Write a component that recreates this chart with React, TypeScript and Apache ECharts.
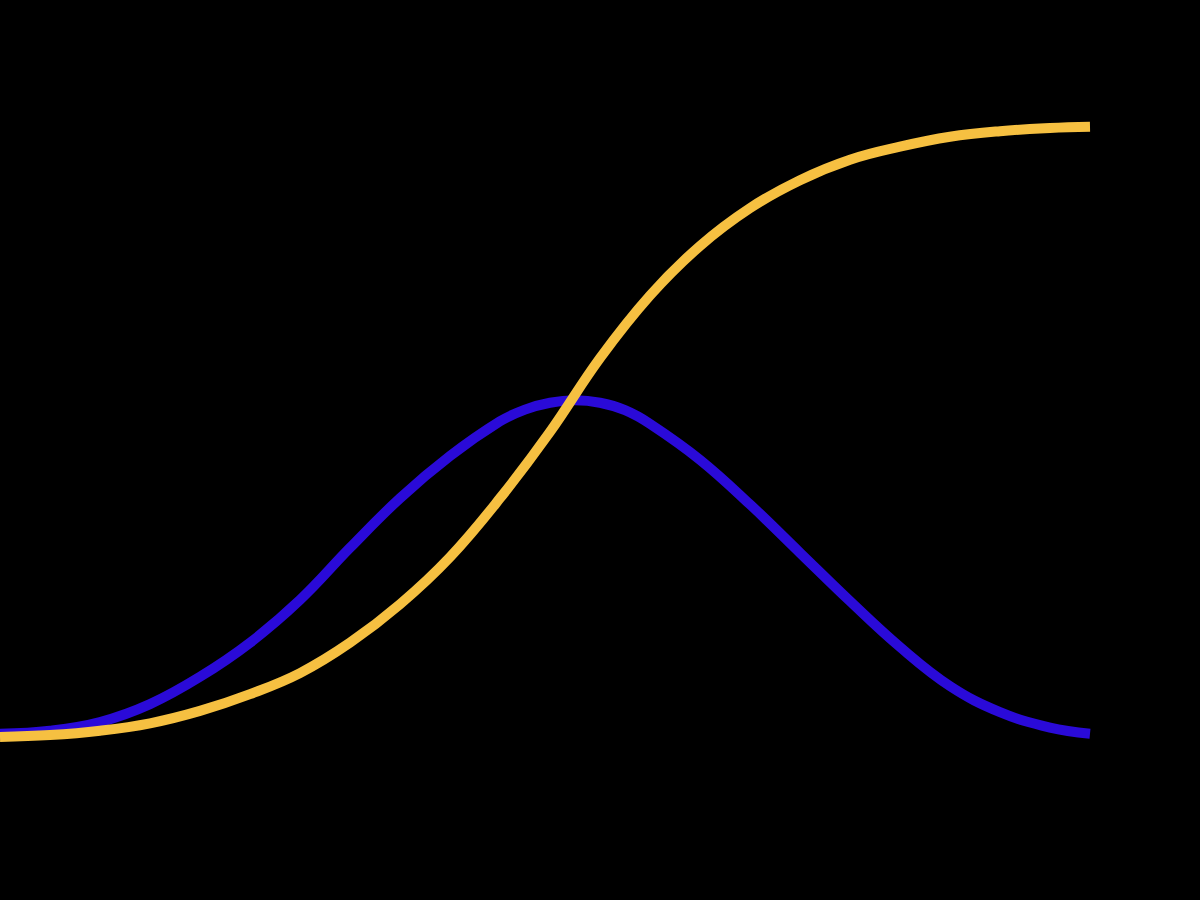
import React, { useEffect, useRef } from "react";
import * as echarts from "echarts";

// x positions for the adoption (bell) curve, arbitrary time units 0..109
const bellX = [0, 5, 10, 15, 20, 25, 30, 35, 40, 45, 50, 52.5, 55, 57.5, 60, 62.5, 65, 70, 75, 80, 85, 90, 95, 100, 105, 109];
// Adopters per period (bell curve), relative units 0..100
const adopters = [1.8, 2.3, 3.7, 6.6, 11.0, 16.5, 23.4, 31.8, 39.8, 46.6, 52.2, 54.1, 55.2, 55.6, 55.2, 54.0, 51.8, 46.0, 38.8, 31.0, 23.2, 15.8, 9.5, 5.3, 2.8, 1.8];

// x positions for the market-share (S) curve
const shareX = [0, 5, 10, 15, 20, 25, 30, 35, 40, 45, 50, 55, 60, 65, 70, 75, 80, 85, 90, 95, 100, 105, 109];
// Cumulative market share (S-curve), relative units 0..100
const share = [1.3, 1.6, 2.3, 3.5, 5.5, 8.2, 11.6, 16.5, 22.7, 30.3, 39.8, 50.5, 62.4, 72.5, 80.5, 86.6, 91.1, 94.4, 96.5, 98.1, 99.0, 99.5, 99.7];

const BLUE = "#2a0ad8";
const YELLOW = "#f6c041";

export default function App() {
  const ref = useRef<HTMLDivElement>(null);
  useEffect(() => {
    if (!ref.current) return;
    const chart = echarts.init(ref.current, null, { renderer: "svg" });
    chart.setOption({
      animation: false,
      backgroundColor: "#000000",
      grid: { left: 0, right: 110, top: 125, bottom: 155 },
      xAxis: { type: "value", min: 0, max: 109, show: false },
      yAxis: { type: "value", min: 0, max: 100, show: false },
      series: [
        {
          name: "Adopters",
          type: "line",
          smooth: 0.4,
          showSymbol: false,
          clip: false,
          data: bellX.map((x, i) => [x, adopters[i]]),
          lineStyle: { color: BLUE, width: 10 },
          z: 2,
        },
        {
          name: "Market share",
          type: "line",
          smooth: 0.4,
          showSymbol: false,
          clip: false,
          data: shareX.map((x, i) => [x, share[i]]),
          lineStyle: { color: YELLOW, width: 10 },
          z: 3,
        },
      ],
    });
    return () => chart.dispose();
  }, []);
  return (
    <div
      ref={ref}
      style={{ position: "absolute", left: 0, top: 0, width: 1200, height: 900, background: "#000" }}
    />
  );
}
